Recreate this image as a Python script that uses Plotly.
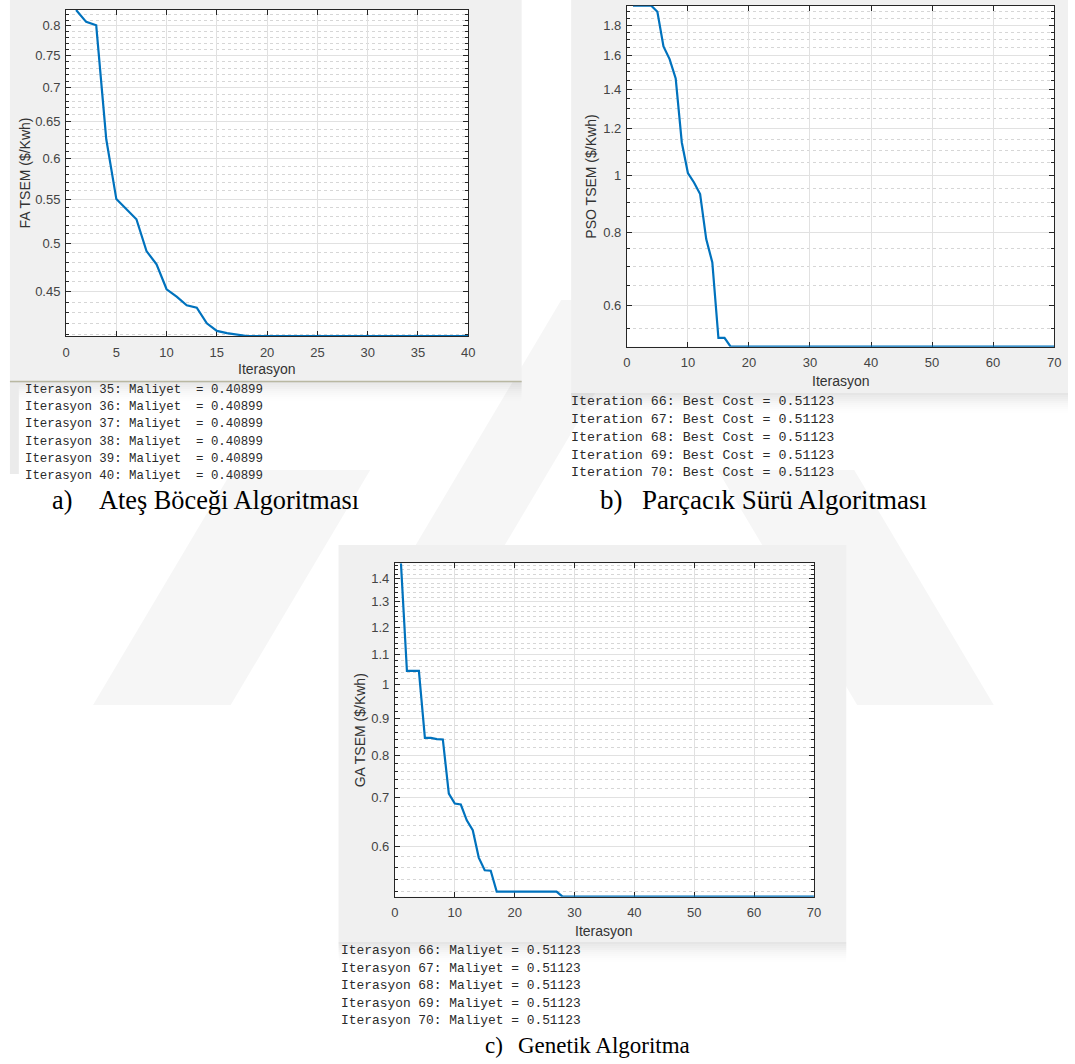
import math
import numpy as np
import plotly.graph_objects as go

W, H = 1075, 1064

# ---------------- data ----------------
iter_fa = list(range(1, 41))
cost_fa = [0.828, 0.807, 0.801, 0.626, 0.550, 0.538, 0.5265, 0.4915, 0.4776, 0.4525,
           0.4454, 0.4371, 0.4349, 0.4204, 0.4135, 0.4115, 0.4103, 0.40899, 0.40899, 0.40899,
           0.40899, 0.40899, 0.40899, 0.40899, 0.40899, 0.40899, 0.40899, 0.40899, 0.40899, 0.40899,
           0.40899, 0.40899, 0.40899, 0.40899, 0.40899, 0.40899, 0.40899, 0.40899, 0.40899, 0.40899]

iter_70 = list(range(1, 71))
cost_pso = [1.942, 1.942, 1.942, 1.942, 1.897, 1.656, 1.576, 1.461, 1.137, 1.009,
            0.972, 0.929, 0.779, 0.711, 0.529, 0.529, 0.51123, 0.51123, 0.51123, 0.51123,
            0.51123, 0.51123, 0.51123, 0.51123, 0.51123, 0.51123, 0.51123, 0.51123, 0.51123, 0.51123,
            0.51123, 0.51123, 0.51123, 0.51123, 0.51123, 0.51123, 0.51123, 0.51123, 0.51123, 0.51123,
            0.51123, 0.51123, 0.51123, 0.51123, 0.51123, 0.51123, 0.51123, 0.51123, 0.51123, 0.51123,
            0.51123, 0.51123, 0.51123, 0.51123, 0.51123, 0.51123, 0.51123, 0.51123, 0.51123, 0.51123,
            0.51123, 0.51123, 0.51123, 0.51123, 0.51123, 0.51123, 0.51123, 0.51123, 0.51123, 0.51123]

cost_ga = [1.469, 1.045, 1.045, 1.045, 0.845, 0.845, 0.842, 0.841, 0.7085, 0.6866,
           0.6845, 0.651, 0.631, 0.5786, 0.5559, 0.555, 0.5196, 0.5196, 0.5196, 0.5196,
           0.5196, 0.5196, 0.5196, 0.5196, 0.5196, 0.5196, 0.5196, 0.51123, 0.51123, 0.51123,
           0.51123, 0.51123, 0.51123, 0.51123, 0.51123, 0.51123, 0.51123, 0.51123, 0.51123, 0.51123,
           0.51123, 0.51123, 0.51123, 0.51123, 0.51123, 0.51123, 0.51123, 0.51123, 0.51123, 0.51123,
           0.51123, 0.51123, 0.51123, 0.51123, 0.51123, 0.51123, 0.51123, 0.51123, 0.51123, 0.51123,
           0.51123, 0.51123, 0.51123, 0.51123, 0.51123, 0.51123, 0.51123, 0.51123, 0.51123, 0.51123]

fa_yticks = [0.45, 0.5, 0.55, 0.6, 0.65, 0.7, 0.75, 0.8]
fa_yticklabels = ["0.45", "0.5", "0.55", "0.6", "0.65", "0.7", "0.75", "0.8"]
pso_yticks = [0.6, 0.8, 1.0, 1.2, 1.4, 1.6, 1.8]
pso_yticklabels = ["0.6", "0.8", "1", "1.2", "1.4", "1.6", "1.8"]
ga_yticks = [0.6, 0.7, 0.8, 0.9, 1.0, 1.1, 1.2, 1.3, 1.4]
ga_yticklabels = ["0.6", "0.7", "0.8", "0.9", "1", "1.1", "1.2", "1.3", "1.4"]

fa_log = ["Iterasyon 35: Maliyet\u00a0 = 0.40899",
          "Iterasyon 36: Maliyet\u00a0 = 0.40899",
          "Iterasyon 37: Maliyet\u00a0 = 0.40899",
          "Iterasyon 38: Maliyet\u00a0 = 0.40899",
          "Iterasyon 39: Maliyet\u00a0 = 0.40899",
          "Iterasyon 40: Maliyet\u00a0 = 0.40899"]
pso_log = ["Iteration 66: Best Cost = 0.51123",
           "Iteration 67: Best Cost = 0.51123",
           "Iteration 68: Best Cost = 0.51123",
           "Iteration 69: Best Cost = 0.51123",
           "Iteration 70: Best Cost = 0.51123"]
ga_log = ["Iterasyon 66: Maliyet = 0.51123",
          "Iterasyon 67: Maliyet = 0.51123",
          "Iterasyon 68: Maliyet = 0.51123",
          "Iterasyon 69: Maliyet = 0.51123",
          "Iterasyon 70: Maliyet = 0.51123"]

# ---------------- helpers ----------------
def fx(x):
    return x / W


def fy(y):
    return 1 - y / H


def minor_vals(lo, hi, step, majors):
    vals = np.round(np.arange(lo, hi + step / 2, step), 4)
    return [float(v) for v in vals if all(abs(v - m) > 1e-6 for m in majors)]


AX_FONT = "Liberation Sans, Arial, Helvetica, sans-serif"
MONO = "Liberation Mono, Courier New, monospace"
SERIF = "Liberation Serif, Times New Roman, serif"
BLUE = "#0072BD"
FIG_GRAY = "#f0f0f0"

panels = [
    dict(key="", box=(62.7, 10, 469, 336), fig=(6, 0, 523, 381),
         x=iter_fa, y=cost_fa, xmax=40, dtick=5,
         ylo=0.40899, yhi=0.828, yt=fa_yticks, ytl=fa_yticklabels,
         minor=minor_vals(0.41, 0.82, 0.01, fa_yticks),
         ytitle="FA TSEM ($/Kwh)", ytitle_x=21.7, xtitle_y=369.3),
    dict(key="2", box=(629.3, 5.7, 1061, 346.7), fig=(573, 0, 1075, 393),
         x=iter_70, y=cost_pso, xmax=70, dtick=10,
         ylo=0.51123, yhi=1.942, yt=pso_yticks, ytl=pso_yticklabels,
         minor=minor_vals(0.55, 1.9, 0.05, pso_yticks),
         ytitle="PSO TSEM ($/Kwh)", ytitle_x=593.5, xtitle_y=381),
    dict(key="3", box=(395, 563.3, 818.3, 896.7), fig=(338, 545, 851, 942),
         x=iter_70, y=cost_ga, xmax=70, dtick=10,
         ylo=0.51123, yhi=1.469, yt=ga_yticks, ytl=ga_yticklabels,
         minor=minor_vals(0.52, 1.46, 0.02, ga_yticks),
         ytitle="GA TSEM ($/Kwh)", ytitle_x=360, xtitle_y=931),
]

fig = go.Figure()
shapes = []
annotations = []


def poly(points, color):
    path = "M " + " L ".join(f"{fx(x):.5f},{fy(y):.5f}" for x, y in points) + " Z"
    return dict(type="path", xref="paper", yref="paper", path=path,
                fillcolor=color, line=dict(width=0), layer="below")


# faint background emblem
WM = "#f6f6f6"
shapes.append(poly([(90, 705), (229, 705), (370, 470), (231, 470)], WM))
shapes.append(poly([(862, 705), (1000, 705), (859, 470), (721, 470)], WM))
shapes.append(poly([(416, 545), (506, 545), (653, 300), (563, 300)], WM))

# MATLAB figure windows (gray) with soft shadow below
for p in panels:
    x0, y0, x1, y1 = p["fig"]
    shapes.append(dict(type="rect", xref="paper", yref="paper",
                       x0=fx(x0), x1=fx(x1), y0=fy(y1), y1=fy(y0),
                       fillcolor=FIG_GRAY, line=dict(width=0), layer="below"))
    for i in range(10):
        a = 0.10 * (1 - i / 10) ** 1.6
        shapes.append(dict(type="rect", xref="paper", yref="paper",
                           x0=fx(x0), x1=fx(x1), y0=fy(y1 + 2 * i + 2), y1=fy(y1 + 2 * i),
                           fillcolor=f"rgba(0,0,0,{a:.3f})", line=dict(width=0), layer="below"))

# thin edge line under the first window and side strip of its console
shapes.append(dict(type="line", xref="paper", yref="paper",
                   x0=fx(6), x1=fx(523), y0=fy(381.5), y1=fy(381.5),
                   line=dict(color="#b9b8a2", width=1.5), layer="below"))
shapes.append(dict(type="rect", xref="paper", yref="paper",
                   x0=fx(6), x1=fx(15), y0=fy(474), y1=fy(383),
                   fillcolor="#ebebeb", line=dict(width=0), layer="below"))

for p in panels:
    k = p["key"]
    xa = "x" + k
    ya = "y" + k
    bx0, by0, bx1, by1 = p["box"]
    fig.add_trace(go.Scatter(x=p["x"], y=p["y"], mode="lines",
                             line=dict(color=BLUE, width=2.2),
                             xaxis=xa, yaxis=ya, showlegend=False,
                             hoverinfo="skip"))
    # white axes area
    shapes.append(dict(type="rect", xref=xa + " domain", yref=ya + " domain",
                       x0=0, x1=1, y0=0, y1=1, fillcolor="white",
                       line=dict(width=0), layer="below"))
    fig.layout["xaxis" + k] = dict(
        domain=[fx(bx0), fx(bx1)], anchor=ya, range=[0, p["xmax"]],
        tickmode="linear", tick0=0, dtick=p["dtick"],
        showgrid=True, gridcolor="#e1e1e1", gridwidth=1, zeroline=False,
        ticks="inside", ticklen=5, tickwidth=1, tickcolor="#262626",
        showline=True, linecolor="#262626", linewidth=1, mirror="ticks",
        tickfont=dict(family=AX_FONT, size=13, color="#444444"),
        ticklabelstandoff=4,
        layer="below traces", fixedrange=True)
    fig.layout["yaxis" + k] = dict(
        domain=[fy(by1), fy(by0)], anchor=xa, type="log",
        range=[math.log10(p["ylo"]), math.log10(p["yhi"])],
        tickmode="array", tickvals=p["yt"], ticktext=p["ytl"],
        showgrid=True, gridcolor="#e1e1e1", gridwidth=1, zeroline=False,
        ticks="inside", ticklen=5, tickwidth=1, tickcolor="#262626",
        showline=True, linecolor="#262626", linewidth=1, mirror="ticks",
        tickfont=dict(family=AX_FONT, size=13, color="#444444"),
        ticklabelstandoff=2,
        minor=dict(tickmode="array", tickvals=p["minor"], ticks="inside",
                   ticklen=3, tickcolor="#262626", showgrid=True,
                   gridcolor="#d6d6d6", griddash="dot", gridwidth=1),
        layer="below traces", fixedrange=True)
    # axis titles
    annotations.append(dict(xref="paper", yref="paper", x=fx(p["ytitle_x"]),
                            y=fy((by0 + by1) / 2), text=p["ytitle"], textangle=-90,
                            showarrow=False, xanchor="center", yanchor="middle",
                            font=dict(family=AX_FONT, size=14, color="#333333")))
    annotations.append(dict(xref="paper", yref="paper", x=fx((bx0 + bx1) / 2),
                            y=fy(p["xtitle_y"]), text="Iterasyon",
                            showarrow=False, xanchor="center", yanchor="middle",
                            font=dict(family=AX_FONT, size=14, color="#333333")))

# console output lines
console = [
    (fa_log, 22, [390, 407.2, 424.4, 441.6, 458.8, 476], 12.4),
    (pso_log, 574, [401.7, 419.3, 437.5, 455.3, 472.7], 13.3),
    (ga_log, 341.7, [950, 968.3, 985.7, 1003.3, 1020.7], 12.9),
]
for lines, x0, ys, size in console:
    for txt, yy in zip(lines, ys):
        annotations.append(dict(xref="paper", yref="paper", x=fx(x0), y=fy(yy),
                                text=txt, showarrow=False, xanchor="left",
                                yanchor="middle", xshift=-3,
                                font=dict(family=MONO, size=size, color="#2a2a2a")))

# captions
captions = [
    ("a)", 50, "Ateş Böceği Algoritması", 97, 500, 26.3),
    ("b)", 603, "Parçacık Sürü Algoritması", 646, 500, 27),
    ("c)", 487, "Genetik Algoritma", 520, 1045, 23),
]
for lab, lx, title, tx, cy, size in captions:
    for txt, xx in ((lab, lx), (title, tx)):
        annotations.append(dict(xref="paper", yref="paper", x=fx(xx), y=fy(cy),
                                text=txt, showarrow=False, xanchor="left",
                                yanchor="middle", xshift=-3,
                                font=dict(family=SERIF, size=size, color="#000000")))

fig.update_layout(
    width=W, height=H, margin=dict(l=0, r=0, t=0, b=0),
    paper_bgcolor="white", plot_bgcolor="rgba(0,0,0,0)",
    shapes=shapes, annotations=annotations, showlegend=False,
)

fig.write_html("out.html")
